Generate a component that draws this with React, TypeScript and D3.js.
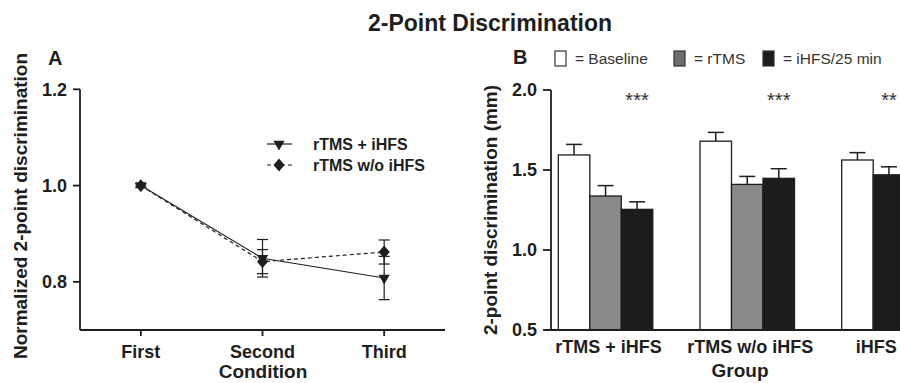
import React from 'react'
import * as d3 from 'd3'

// panel A: normalized values per condition
const conditions = ['First', 'Second', 'Third']
const comboMean = [1.0, 0.849, 0.808]
const comboErr = [0.004, 0.039, 0.045]
const withoutMean = [1.0, 0.842, 0.862]
const withoutErr = [0.004, 0.025, 0.025]
const aTicks = [0.8, 1.0, 1.2]

// panel B: raw thresholds per group and phase
const groups = ['rTMS + iHFS', 'rTMS w/o iHFS', 'iHFS']
const phases = ['Baseline', 'rTMS', 'iHFS/25 min']
const baselineMean = [1.594, 1.68, 1.5625]
const baselineErr = [0.066, 0.055, 0.046]
const rtmsMean = [1.3375, 1.41, null]
const rtmsErr = [0.065, 0.05, null]
const ihfsMean = [1.254, 1.448, 1.47]
const ihfsErr = [0.047, 0.06, 0.05]
const stars = ['***', '***', '**']
const bTicks = [0.5, 1.0, 1.5, 2.0]

const FONT = "'Liberation Sans', Arial, sans-serif"
const INK = '#1e1e1e'
const phaseFill = { Baseline: '#ffffff', rTMS: '#8a8a8a', 'iHFS/25 min': '#1c1c1c' }
const legendFill = { Baseline: '#ffffff', rTMS: '#6e6e6e', 'iHFS/25 min': '#1c1c1c' }

const PanelA = () => {
    const x = d3.scalePoint().domain(conditions).range([80, 445]).padding(0.5)
    const y = d3.scaleLinear().domain([0.7, 1.2]).range([330, 89.3])

    const series = [
        { name: 'rTMS + iHFS', mean: comboMean, err: comboErr, dash: null, shape: 'tri' },
        { name: 'rTMS w/o iHFS', mean: withoutMean, err: withoutErr, dash: '4,3', shape: 'dia' },
    ]

    const line = d3.line().x(d => d[0]).y(d => d[1])
    const tri = d3.symbol(d3.symbolTriangle, 55)()
    const dia = d3.symbol(d3.symbolSquare, 62)()

    const marker = (shape, cx, cy, key) =>
        shape === 'tri'
            ? <path key={key} d={tri} transform={`translate(${cx},${cy}) rotate(180)`} fill={INK} />
            : <path key={key} d={dia} transform={`translate(${cx},${cy}) scale(1,1.15) rotate(45)`} fill={INK} />

    return (
        <g>
            <text x={48} y={65} fontSize={20} fontWeight="bold">A</text>

            {/* y axis */}
            <line x1={80} x2={80} y1={y(1.2)} y2={330} stroke={INK} strokeWidth={1.8} />
            {aTicks.map(t => (
                <g key={t}>
                    <line x1={73} x2={80} y1={y(t)} y2={y(t)} stroke={INK} strokeWidth={1.8} />
                    <text x={67} y={y(t)} dy="0.35em" textAnchor="end" fontSize={18} fontWeight="bold">{t.toFixed(1)}</text>
                </g>
            ))}
            <text transform={`translate(27,206) rotate(-90)`} textAnchor="middle" fontSize={19} fontWeight="bold">
                Normalized 2-point discrimination
            </text>

            {/* x axis */}
            <line x1={80} x2={445} y1={330} y2={330} stroke={INK} strokeWidth={1.8} />
            {conditions.map(c => (
                <g key={c}>
                    <line x1={x(c)} x2={x(c)} y1={330} y2={336} stroke={INK} strokeWidth={1.8} />
                    <text x={x(c)} y={358} textAnchor="middle" fontSize={18} fontWeight="bold">{c}</text>
                </g>
            ))}
            <text x={263} y={378} textAnchor="middle" fontSize={19} fontWeight="bold">Condition</text>

            {series.map(s => (
                <g key={s.name}>
                    <path
                        d={line(conditions.map((c, i) => [x(c), y(s.mean[i])]))}
                        fill="none" stroke={INK} strokeWidth={1.2} strokeDasharray={s.dash || undefined}
                    />
                    {conditions.map((c, i) => {
                        const cx = x(c)
                        const top = y(s.mean[i] + s.err[i])
                        const bot = y(s.mean[i] - s.err[i])
                        return (
                            <g key={c}>
                                <line x1={cx} x2={cx} y1={top} y2={bot} stroke={INK} strokeWidth={1.2} />
                                <line x1={cx - 5.5} x2={cx + 5.5} y1={top} y2={top} stroke={INK} strokeWidth={1.2} />
                                <line x1={cx - 5.5} x2={cx + 5.5} y1={bot} y2={bot} stroke={INK} strokeWidth={1.2} />
                            </g>
                        )
                    })}
                    {conditions.map((c, i) => marker(s.shape, x(c), y(s.mean[i]), c))}
                </g>
            ))}

            {/* legend */}
            {series.map((s, i) => {
                const ly = 144 + i * 21
                return (
                    <g key={s.name}>
                        <line x1={267} x2={292} y1={ly} y2={ly} stroke={INK} strokeWidth={1.2} strokeDasharray={s.dash || undefined} />
                        {marker(s.shape, 279, ly, 'm')}
                        <text x={313} y={ly} dy="0.35em" fontSize={16} fontWeight="bold">{s.name}</text>
                    </g>
                )
            })}
        </g>
    )
}

const PanelB = () => {
    const step = 141.7
    const barW = 31.5
    const x0 = d3.scaleBand().domain(groups).range([558.3, 558.3 + step * groups.length])
    const y = d3.scaleLinear().domain([0.5, 2.0]).range([330, 90])

    const values = {
        Baseline: [baselineMean, baselineErr],
        rTMS: [rtmsMean, rtmsErr],
        'iHFS/25 min': [ihfsMean, ihfsErr],
    }

    const legendItems = [
        { phase: 'Baseline', bx: 555, tx: 575, label: '= Baseline' },
        { phase: 'rTMS', bx: 674, tx: 694, label: '= rTMS' },
        { phase: 'iHFS/25 min', bx: 763, tx: 783, label: '= iHFS/25 min' },
    ]

    return (
        <g>
            <text x={513} y={64} fontSize={20} fontWeight="bold">B</text>
            {legendItems.map(l => (
                <g key={l.phase}>
                    <rect x={l.bx} y={51} width={11} height={15} fill={legendFill[l.phase]} stroke="#333" strokeWidth={1.2} />
                    <text x={l.tx} y={64} fontSize={15.5} fill="#333">{l.label}</text>
                </g>
            ))}

            {/* y axis */}
            <line x1={551} x2={551} y1={y(2.0)} y2={y(0.5)} stroke={INK} strokeWidth={1.8} />
            {bTicks.map(t => (
                <g key={t}>
                    <line x1={543} x2={551} y1={y(t)} y2={y(t)} stroke={INK} strokeWidth={1.8} />
                    <text x={537} y={y(t)} dy="0.35em" textAnchor="end" fontSize={18} fontWeight="bold">{t.toFixed(1)}</text>
                </g>
            ))}
            <text transform={`translate(497,210) rotate(-90)`} textAnchor="middle" fontSize={19} fontWeight="bold">
                2-point discrimination (mm)
            </text>

            {groups.map((g, gi) => {
                const present = phases.filter(p => values[p][0][gi] != null)
                const x1 = d3.scaleBand().domain(present).range([0, present.length * barW])
                const gx = x0(g)
                return (
                    <g key={g}>
                        {present.map(p => {
                            const m = values[p][0][gi]
                            const e = values[p][1][gi]
                            const bx = gx + x1(p)
                            const cx = bx + x1.bandwidth() / 2
                            return (
                                <g key={p}>
                                    <line x1={cx} x2={cx} y1={y(m)} y2={y(m + e)} stroke={INK} strokeWidth={1.5} />
                                    <line x1={cx - 8} x2={cx + 8} y1={y(m + e)} y2={y(m + e)} stroke={INK} strokeWidth={1.5} />
                                    <rect x={bx} y={y(m)} width={x1.bandwidth()} height={y(0.5) - y(m)}
                                        fill={phaseFill[p]} stroke={INK} strokeWidth={1.3} />
                                </g>
                            )
                        })}
                        <text x={gx + x1('iHFS/25 min') + x1.bandwidth() / 2} y={107} textAnchor="middle" fontSize={20} fill="#333">
                            {stars[gi]}
                        </text>
                        <text x={gx + (present.length * barW) / 2 + 3} y={353} textAnchor="middle" fontSize={18} fontWeight="bold">
                            {g}
                        </text>
                    </g>
                )
            })}

            {/* x axis */}
            <line x1={545} x2={900} y1={330} y2={330} stroke={INK} strokeWidth={1.8} />
            <text x={740} y={377} textAnchor="middle" fontSize={19} fontWeight="bold">Group</text>
        </g>
    )
}

export default function App() {
    return (
        <svg width={900} height={383} style={{ position: 'absolute', left: 0, top: 0, background: '#fff' }}
            fontFamily={FONT} fill={INK}>
            <rect width={900} height={383} fill="#fff" />
            <text x={490} y={31} textAnchor="middle" fontSize={23} fontWeight="bold">2-Point Discrimination</text>
            <PanelA />
            <PanelB />
        </svg>
    )
}
